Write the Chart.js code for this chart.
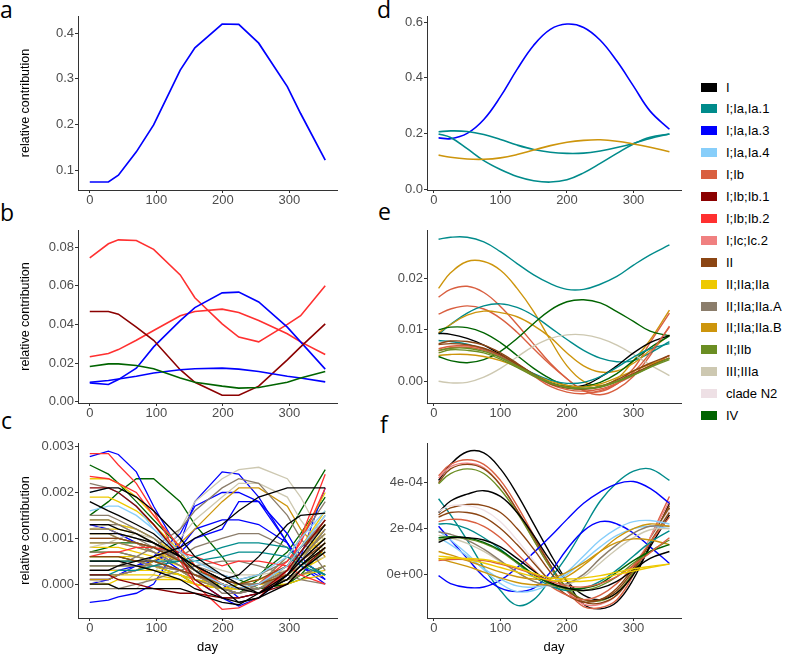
<!DOCTYPE html>
<html><head><meta charset="utf-8">
<script src="https://cdn.jsdelivr.net/npm/chart.js@4.4.1/dist/chart.umd.min.js"></script>
<style>
html,body{margin:0;padding:0;background:#fff;}
body{width:788px;height:655px;position:relative;overflow:hidden;font-family:"Liberation Sans",Arial,sans-serif;}
canvas{position:absolute;}
.lbl{position:absolute;font-family:"Open Sans",sans-serif;font-size:23px;line-height:23px;color:#000;}
.key{position:absolute;width:16px;height:9px;}
.ltxt{position:absolute;font-size:13px;line-height:15px;color:#000;white-space:nowrap;font-family:"Liberation Sans",Arial,sans-serif;}
</style></head><body>
<div class="lbl" style="left:0px;top:-2px">a</div>
<div class="lbl" style="left:0px;top:201px">b</div>
<div class="lbl" style="left:1px;top:409px">c</div>
<div class="lbl" style="left:377px;top:-2px">d</div>
<div class="lbl" style="left:378px;top:200px">e</div>
<div class="lbl" style="left:380px;top:413px">f</div>
<div id="legend"></div>
<script>
// ---- categories / legend ----
const cladeNames = ['I','I;Ia,Ia.1','I;Ia,Ia.3','I;Ia,Ia.4','I;Ib','I;Ib;Ib.1','I;Ib;Ib.2','I;Ic;Ic.2','II','II;IIa;IIa','II;IIa;IIa.A','II;IIa;IIa.B','II;IIb','III;IIIa','clade N2','IV'];
const cladeColors = ['#000000','#008B8B','#0000FF','#87CEFA','#D95F40','#8B0000','#FF3030','#F08080','#8B4513','#EEC900','#8B7D6B','#CD950C','#6B8E23','#CDC8B1','#EEE0E5','#006400'];

// ---- x values (day) ----
const dayLeft = [0, 28, 43, 70, 96, 136, 158, 199, 224, 254, 297, 317, 354];
const dayRight = [7, 25, 50, 75, 100, 125, 150, 175, 200, 225, 250, 275, 300, 325, 354];
const xTicks = [0, 100, 200, 300];

// ---- tick labels ----
const yTicksA = [0.1, 0.2, 0.3, 0.4];           const yLabA = ['0.1','0.2','0.3','0.4'];
const yTicksB = [0, 0.02, 0.04, 0.06, 0.08];    const yLabB = ['0.00','0.02','0.04','0.06','0.08'];
const yTicksC = [0, 0.001, 0.002, 0.003];       const yLabC = ['0.000','0.001','0.002','0.003'];
const yTicksD = [0, 0.2, 0.4, 0.6];             const yLabD = ['0.0','0.2','0.4','0.6'];
const yTicksE = [0, 0.01, 0.02];                const yLabE = ['0.00','0.01','0.02'];
const yTicksF = [0, 2e-4, 4e-4];                const yLabF = ['0e+00','2e-04','4e-04'];

// ---- series: panel a ----
const seriesA = [
  ['I;Ia,Ia.3', [0.074, 0.074, 0.089, 0.140, 0.199, 0.319, 0.368, 0.420, 0.419, 0.378, 0.283, 0.224, 0.122]]
];
// ---- panel b ----
const seriesB = [
  ['IV',        [0.0183, 0.0196, 0.0196, 0.0188, 0.0171, 0.0123, 0.0101, 0.0081, 0.0071, 0.0074, 0.0101, 0.0123, 0.0157]],
  ['I;Ia,Ia.3', [0.0101, 0.0110, 0.0118, 0.0132, 0.0149, 0.0166, 0.0171, 0.0174, 0.0169, 0.0157, 0.0132, 0.0123, 0.0103]],
  ['I;Ib;Ib.1', [0.0467, 0.0467, 0.0453, 0.0386, 0.0318, 0.0166, 0.0101, 0.0034, 0.0034, 0.0081, 0.0217, 0.0284, 0.0403]],
  ['I;Ia,Ia.3', [0.0098, 0.0090, 0.0115, 0.0174, 0.0284, 0.0420, 0.0487, 0.0563, 0.0567, 0.0516, 0.0386, 0.0310, 0.0169]],
  ['I;Ib;Ib.2', [0.0233, 0.0250, 0.0270, 0.0318, 0.0369, 0.0445, 0.0467, 0.0479, 0.0462, 0.0420, 0.0352, 0.0310, 0.0245]],
  ['I;Ib;Ib.2', [0.0744, 0.0817, 0.0837, 0.0834, 0.0788, 0.0656, 0.0538, 0.0403, 0.0335, 0.0310, 0.0400, 0.0445, 0.0600]]
];
// ---- panel c ----
const seriesC = [
  ['I',            [0.0020, 0.0021, 0.0021, 0.0019, 0.0016, 0.0010, 0.0006, 0.0002, 0.0000, -0.0002, 0.0001, 0.0004, 0.0009]],
  ['I',            [0.0003, 0.0003, 0.0004, 0.0005, 0.0006, 0.0008, 0.0010, 0.0013, 0.0016, 0.0019, 0.0021, 0.0021, 0.0021]],
  ['I',            [0.0000, 0.0000, -0.0001, -0.0001, -0.0001, -0.0001, -0.0002, -0.0004, -0.00045, -0.0002, 0.0002, 0.0005, 0.0010]],
  ['I',            [0.0013, 0.0013, 0.0012, 0.0011, 0.0009, 0.0006, 0.0004, 0.0001, 0.0002, 0.0006, 0.0013, 0.0015, 0.00155]],
  ['I',            [0.0018, 0.0016, 0.0015, 0.0013, 0.0011, 0.0006, 0.0003, -0.0001, -0.0004, -0.0003, 0.0002, 0.0006, 0.0013]],
  ['I',            [0.0011, 0.0011, 0.0011, 0.0010, 0.0009, 0.0006, 0.0004, 0.0001, -0.0001, -0.0002, 0.0001, 0.0004, 0.0008]],
  ['I',            [0.0005, 0.0005, 0.0005, 0.0004, 0.0003, 0.0001, -0.0001, -0.0003, -0.0004, -0.0003, 0.0000, 0.0003, 0.0007]],
  ['I;Ib;Ib.1',    [0.0021, 0.0021, 0.0020, 0.0017, 0.0013, 0.0006, 0.0001, -0.0003, -0.0003, -0.0002, 0.0003, 0.0007, 0.0014]],
  ['I;Ib;Ib.1',    [0.0002, 0.0002, 0.0001, 0.0000, -0.0001, -0.0002, -0.0002, -0.0003, -0.0003, -0.0002, 0.0000, 0.0003, 0.0008]],
  ['I;Ia,Ia.4',    [0.0016, 0.0017, 0.0017, 0.0015, 0.0012, 0.0007, 0.0005, 0.0002, 0.0001, 0.0002, 0.0006, 0.0010, 0.0016]],
  ['I;Ia,Ia.4',    [0.0020, 0.0021, 0.0020, 0.0017, 0.0012, 0.0006, 0.0003, 0.0000, -0.0001, 0.0000, 0.0004, 0.0008, 0.0015]],
  ['II',           [0.0010, 0.0010, 0.0010, 0.0009, 0.0008, 0.0005, 0.0003, 0.0001, 0.0000, 0.0001, 0.0004, 0.0008, 0.0013]],
  ['II',           [0.0006, 0.0006, 0.0006, 0.0005, 0.0005, 0.0003, 0.0002, 0.0000, -0.0001, 0.0000, 0.0002, 0.0005, 0.0009]],
  ['I;Ia,Ia.1',    [0.0002, 0.0002, 0.0003, 0.0003, 0.0004, 0.0005, 0.0006, 0.0008, 0.0009, 0.0009, 0.0008, 0.0005, 0.0002]],
  ['I;Ia,Ia.1',    [0.0005, 0.0005, 0.0005, 0.0005, 0.0005, 0.0005, 0.0005, 0.0006, 0.0007, 0.0007, 0.0006, 0.0004, 0.0002]],
  ['I;Ib;Ib.2',    [0.00285, 0.00285, 0.0026, 0.0022, 0.0016, 0.0005, 0.0000, -0.00055, -0.00052, -0.0003, 0.0003, 0.0010, 0.0024]],
  ['I;Ib;Ib.2',    [0.00235, 0.0023, 0.0022, 0.0020, 0.0015, 0.0008, 0.0004, 0.0000, -0.0001, 0.0000, 0.0005, 0.0009, 0.0021]],
  ['I;Ib;Ib.2',    [0.0006, 0.0007, 0.0007, 0.0008, 0.0008, 0.0007, 0.0006, 0.0004, 0.0005, 0.0005, 0.0004, 0.0002, 0.0000]],
  ['II;IIa;IIa.A', [0.0022, 0.0021, 0.0020, 0.0017, 0.0013, 0.0006, 0.0003, -0.0002, -0.0002, 0.0000, 0.0006, 0.0010, 0.0018]],
  ['II;IIa;IIa.A', [0.0003, 0.0003, 0.0004, 0.0006, 0.0008, 0.0012, 0.0016, 0.0021, 0.0023, 0.0022, 0.0015, 0.0010, 0.0003]],
  ['II;IIa;IIa.A', [0.0015, 0.0015, 0.0014, 0.0012, 0.0010, 0.0005, 0.0002, -0.0001, -0.0002, -0.0001, 0.0003, 0.0007, 0.0014]],
  ['II;IIa;IIa.A', [0.0012, 0.0012, 0.0011, 0.0010, 0.0008, 0.0005, 0.0003, 0.0001, 0.0000, 0.0000, 0.0003, 0.0006, 0.0011]],
  ['II;IIa;IIa.A', [0.0009, 0.0009, 0.0009, 0.0008, 0.0007, 0.0004, 0.0002, 0.0000, -0.0001, 0.0000, 0.0003, 0.0005, 0.0010]],
  ['II;IIa;IIa.A', [0.0005, 0.0005, 0.0005, 0.0005, 0.0004, 0.0003, 0.0002, 0.0000, -0.0001, -0.0001, 0.0001, 0.0003, 0.0007]],
  ['II;IIa;IIa.A', [0.0002, 0.0002, 0.0002, 0.0003, 0.0004, 0.0006, 0.0008, 0.0010, 0.0011, 0.0011, 0.0008, 0.0005, 0.0002]],
  ['II;IIa;IIa.A', [-0.0001, -0.0001, -0.0001, 0.0000, 0.0001, 0.0003, 0.0004, 0.0005, 0.0005, 0.0004, 0.0002, 0.0001, 0.0000]],
  ['II;IIa;IIa.A', [0.0013, 0.0013, 0.0013, 0.0011, 0.0009, 0.0006, 0.0004, 0.0001, 0.0000, 0.0000, 0.0004, 0.0008, 0.0015]],
  ['II;IIa;IIa.A', [0.0007, 0.0007, 0.0007, 0.0006, 0.0005, 0.0003, 0.0001, -0.0001, -0.0002, -0.0001, 0.0002, 0.0005, 0.0012]],
  ['II;IIa;IIa.A', [0.0011, 0.0011, 0.0010, 0.0009, 0.0007, 0.0004, 0.0002, -0.0001, -0.0002, -0.0001, 0.0002, 0.0004, 0.0009]],
  ['II;IIa;IIa.A', [0.0014, 0.0014, 0.0013, 0.0011, 0.0009, 0.0005, 0.0003, 0.0000, -0.0001, 0.0000, 0.0004, 0.0007, 0.0013]],
  ['II;IIa;IIa.A', [0.0004, 0.0004, 0.0004, 0.0004, 0.0004, 0.0003, 0.0002, 0.0001, 0.0000, 0.0000, 0.0001, 0.0002, 0.0004]],
  ['II;IIa;IIa.A', [0.0010, 0.0010, 0.0010, 0.0009, 0.0008, 0.0006, 0.0004, 0.0002, 0.0001, 0.0002, 0.0005, 0.0008, 0.0014]],
  ['II;IIa;IIa.B', [0.0001, 0.0001, 0.0002, 0.0003, 0.0005, 0.0009, 0.0012, 0.0018, 0.0021, 0.0021, 0.0017, 0.0012, 0.0006]],
  ['III;IIIa',     [0.0008, 0.0009, 0.0010, 0.0011, 0.0010, 0.0007, 0.0005, 0.0003, 0.0002, 0.0002, 0.0003, 0.0004, 0.0006]],
  ['II;IIa;IIa',   [0.0023, 0.0023, 0.0022, 0.0019, 0.0015, 0.0008, 0.0004, 0.0000, -0.0001, 0.0000, 0.0006, 0.0010, 0.0020]],
  ['II;IIa;IIa',   [0.0019, 0.0019, 0.0018, 0.0016, 0.0013, 0.0007, 0.0003, 0.0000, -0.0001, 0.0000, 0.0004, 0.0008, 0.0016]],
  ['II;IIa;IIa',   [0.0011, 0.0011, 0.0010, 0.0009, 0.0007, 0.0004, 0.0002, -0.0001, -0.0001, 0.0000, 0.0003, 0.0006, 0.0011]],
  ['II;IIa;IIa',   [0.0008, 0.0008, 0.0008, 0.0007, 0.0006, 0.0004, 0.0002, 0.0000, -0.0001, 0.0000, 0.0002, 0.0004, 0.0009]],
  ['II;IIa;IIa',   [0.0005, 0.0005, 0.0005, 0.0005, 0.0004, 0.0002, 0.0001, -0.0001, -0.0001, 0.0000, 0.0001, 0.0003, 0.0006]],
  ['II;IIa;IIa',   [0.0003, 0.0003, 0.0003, 0.0003, 0.0003, 0.0002, 0.0000, -0.0001, -0.0001, 0.0000, 0.0001, 0.0002, 0.0004]],
  ['II;IIa;IIa',   [0.0000, 0.0000, 0.0001, 0.0001, 0.0001, 0.0001, 0.0000, -0.0001, 0.0000, 0.0000, 0.0000, 0.0001, 0.0002]],
  ['II;IIa;IIa',   [0.0014, 0.0014, 0.0013, 0.0012, 0.0010, 0.0006, 0.0003, 0.0000, -0.0001, 0.0000, 0.0004, 0.0008, 0.0013]],
  ['II;IIa;IIa',   [0.0012, 0.0012, 0.0012, 0.0011, 0.0009, 0.0005, 0.0003, 0.0000, -0.0001, 0.0000, 0.0003, 0.0006, 0.0010]],
  ['II;IIa;IIa',   [0.0006, 0.0006, 0.0006, 0.0006, 0.0005, 0.0003, 0.0001, 0.0000, -0.0001, 0.0000, 0.0002, 0.0004, 0.0008]],
  ['II;IIa;IIa',   [0.0002, 0.0002, 0.0002, 0.0002, 0.0002, 0.0001, 0.0000, -0.0001, -0.0001, 0.0000, 0.0001, 0.0002, 0.0003]],
  ['II;IIa;IIa',   [0.0009, 0.0009, 0.0009, 0.0008, 0.0007, 0.0005, 0.0003, 0.0001, 0.0000, 0.0001, 0.0003, 0.0006, 0.0012]],
  ['II;IIb',       [0.0004, 0.0004, 0.0004, 0.0004, 0.0003, 0.0002, 0.0001, 0.0000, -0.0001, 0.0000, 0.0001, 0.0002, 0.0004]],
  ['II;IIb',       [0.0007, 0.0007, 0.0007, 0.0006, 0.0005, 0.0003, 0.0001, -0.0001, -0.0001, 0.0000, 0.0002, 0.0004, 0.0007]],
  ['III;IIIa',     [0.0001, 0.0000, -0.0001, -0.0001, 0.0002, 0.0012, 0.0018, 0.0023, 0.0025, 0.00255, 0.0023, 0.0019, 0.0009]],
  ['III;IIIa',     [0.0002, 0.0002, 0.0002, 0.0003, 0.0005, 0.0010, 0.0014, 0.0019, 0.0022, 0.0022, 0.0019, 0.0014, 0.0007]],
  ['III;IIIa',     [0.0012, 0.0013, 0.0013, 0.0012, 0.0010, 0.0007, 0.0005, 0.0002, 0.0000, -0.0001, 0.0002, 0.0005, 0.0012]],
  ['I;Ia,Ia.3',    [0.00278, 0.0029, 0.00283, 0.00245, 0.0017, 0.0007, 0.0003, 0.0000, -0.0003, -0.0002, 0.0002, 0.0005, 0.0012]],
  ['I;Ia,Ia.3',    [-0.0004, -0.00035, -0.00028, -0.0002, 0.0000, 0.0009, 0.0018, 0.00245, 0.0024, 0.0019, 0.0009, 0.0004, 0.0000]],
  ['I;Ia,Ia.3',    [0.0000, 0.0001, 0.0002, 0.0004, 0.0006, 0.0011, 0.0017, 0.0020, 0.0020, 0.0018, 0.0011, 0.0006, 0.0001]],
  ['I;Ia,Ia.3',    [0.0001, 0.0001, 0.0002, 0.0003, 0.0005, 0.0008, 0.0012, 0.0014, 0.0014, 0.0013, 0.0009, 0.0005, 0.0002]],
  ['I;Ia,Ia.3',    [0.0003, 0.0003, 0.0003, 0.0004, 0.0005, 0.0007, 0.0010, 0.0012, 0.0018, 0.0018, 0.0009, 0.0004, 0.0001]],
  ['I;Ia,Ia.3',    [0.0013, 0.0012, 0.0011, 0.0009, 0.0007, 0.0003, 0.0001, -0.0003, -0.00048, -0.0003, 0.0002, 0.0006, 0.0021]],
  ['IV',           [0.0026, 0.0024, 0.0022, 0.0018, 0.0014, 0.0008, 0.0004, -0.0001, -0.0002, 0.0001, 0.0011, 0.0016, 0.0025]],
  ['IV',           [0.0015, 0.0018, 0.0020, 0.0023, 0.0023, 0.0018, 0.0013, 0.0006, 0.0001, -0.0001, 0.0000, 0.0002, 0.0008]],
  ['IV',           [0.0007, 0.0008, 0.0009, 0.0009, 0.0008, 0.0005, 0.0003, -0.0001, 0.0000, 0.0002, 0.0007, 0.0011, 0.0019]],
  ['IV',           [0.0006, 0.0006, 0.0006, 0.0005, 0.0004, 0.0002, 0.0000, -0.0001, -0.0001, -0.0001, 0.0000, 0.0001, 0.0004]]
];
// ---- panel d ----
const seriesD = [
  ['II;IIa;IIa.B', [0.122, 0.114, 0.108, 0.107, 0.112, 0.124, 0.140, 0.156, 0.168, 0.175, 0.177, 0.172, 0.162, 0.150, 0.134]],
  ['I;Ia,Ia.1',    [0.206, 0.209, 0.207, 0.196, 0.178, 0.158, 0.142, 0.132, 0.128, 0.129, 0.137, 0.149, 0.164, 0.182, 0.198]],
  ['I;Ia,Ia.1',    [0.198, 0.185, 0.145, 0.102, 0.070, 0.045, 0.030, 0.025, 0.033, 0.058, 0.092, 0.128, 0.162, 0.186, 0.198]],
  ['I;Ia,Ia.3',    [0.184, 0.181, 0.200, 0.250, 0.332, 0.430, 0.517, 0.574, 0.593, 0.581, 0.535, 0.460, 0.370, 0.280, 0.215]]
];
// ---- panel e ----
const seriesE = [
  ['II;IIb',       [0.0060, 0.0064, 0.0064, 0.0058, 0.0046, 0.0030, 0.0013, -0.0003, -0.0011, -0.0014, -0.0010, 0.0000, 0.0013, 0.0028, 0.0045]],
  ['II;IIb',       [0.0055, 0.0061, 0.0060, 0.0055, 0.0043, 0.0027, 0.0010, -0.0004, -0.0012, -0.0014, -0.0011, -0.0001, 0.0012, 0.0027, 0.0042]],
  ['II',           [0.0073, 0.0078, 0.0077, 0.0070, 0.0055, 0.0035, 0.0013, -0.0005, -0.0013, -0.0015, -0.0010, 0.0003, 0.0020, 0.0035, 0.0050]],
  ['II',           [0.0071, 0.0073, 0.0071, 0.0064, 0.0051, 0.0033, 0.0014, -0.0003, -0.0012, -0.0015, -0.0011, 0.0000, 0.0015, 0.0030, 0.0045]],
  ['II;IIa;IIa.B', [0.0050, 0.0052, 0.0052, 0.0048, 0.0040, 0.0028, 0.0013, 0.0000, -0.0008, -0.0011, -0.0005, 0.0007, 0.0020, 0.0033, 0.0045]],
  ['I;Ib',         [0.0063, 0.0068, 0.0069, 0.0063, 0.0050, 0.0032, 0.0012, -0.0006, -0.0016, -0.0019, -0.0015, -0.0004, 0.0012, 0.0030, 0.0050]],
  ['I;Ib',         [0.0059, 0.0065, 0.0066, 0.0060, 0.0047, 0.0029, 0.0010, -0.0010, -0.0021, -0.0024, -0.0018, -0.0005, 0.0018, 0.0055, 0.0105]],
  ['I;Ia,Ia.1',    [0.0079, 0.0077, 0.0072, 0.0062, 0.0048, 0.0032, 0.0015, 0.0002, -0.0004, -0.0002, 0.0009, 0.0027, 0.0047, 0.0063, 0.0073]],
  ['I',            [0.0093, 0.0091, 0.0083, 0.0070, 0.0052, 0.0032, 0.0012, -0.0003, -0.0010, -0.0008, 0.0008, 0.0030, 0.0055, 0.0075, 0.0089]],
  ['III;IIIa',     [0.0000, -0.0003, -0.0002, 0.0008, 0.0025, 0.0047, 0.0068, 0.0083, 0.0090, 0.0090, 0.0083, 0.0070, 0.0052, 0.0032, 0.0011]],
  ['IV',           [0.0100, 0.0105, 0.0104, 0.0094, 0.0075, 0.0050, 0.0025, 0.0005, -0.0008, -0.0010, -0.0002, 0.0015, 0.0040, 0.0065, 0.0088]],
  ['IV',           [0.0048, 0.0040, 0.0036, 0.0042, 0.0058, 0.0083, 0.0112, 0.0138, 0.0154, 0.0158, 0.0152, 0.0135, 0.0116, 0.0097, 0.0088]],
  ['II;IIa;IIa.B', [0.0094, 0.0110, 0.0128, 0.0136, 0.0133, 0.0125, 0.0108, 0.0085, 0.0055, 0.0030, 0.0018, 0.0020, 0.0035, 0.0060, 0.0090]],
  ['I;Ia,Ia.1',    [0.0091, 0.0110, 0.0132, 0.0146, 0.0150, 0.0143, 0.0127, 0.0104, 0.0081, 0.0060, 0.0045, 0.0038, 0.0040, 0.0055, 0.0077]],
  ['I;Ib',         [0.0130, 0.0140, 0.0146, 0.0140, 0.0122, 0.0095, 0.0063, 0.0032, 0.0005, -0.0018, -0.0026, -0.0015, 0.0010, 0.0050, 0.0107]],
  ['I;Ib',         [0.0163, 0.0178, 0.0184, 0.0172, 0.0145, 0.0110, 0.0072, 0.0035, 0.0005, -0.0018, -0.0020, -0.0005, 0.0025, 0.0075, 0.0132]],
  ['II;IIa;IIa.B', [0.0180, 0.0210, 0.0232, 0.0232, 0.0215, 0.0180, 0.0135, 0.0080, 0.0030, 0.0000, -0.0008, 0.0005, 0.0040, 0.0080, 0.0138]],
  ['I;Ia,Ia.1',    [0.0275, 0.0279, 0.0279, 0.0270, 0.0251, 0.0228, 0.0206, 0.0189, 0.0178, 0.0178, 0.0188, 0.0203, 0.0225, 0.0245, 0.0264]]
];
// ---- panel f ----
const seriesF = [
  ['II;IIa;IIa',   [0.80e-4, 0.75e-4, 0.65e-4, 0.50e-4, 0.30e-4, 0.10e-4, -0.10e-4, -0.25e-4, -0.30e-4, -0.30e-4, -0.20e-4, 0.00e-4, 0.15e-4, 0.30e-4, 0.45e-4]],
  ['II;IIa;IIa',   [0.65e-4, 0.70e-4, 0.70e-4, 0.65e-4, 0.50e-4, 0.30e-4, 0.05e-4, -0.15e-4, -0.20e-4, -0.15e-4, -0.05e-4, 0.10e-4, 0.25e-4, 0.35e-4, 0.45e-4]],
  ['I;Ib',         [0.60e-4, 0.65e-4, 0.65e-4, 0.60e-4, 0.45e-4, 0.25e-4, 0.00e-4, -0.30e-4, -0.50e-4, -0.55e-4, -0.40e-4, -0.10e-4, 0.40e-4, 0.95e-4, 1.60e-4]],
  ['I',            [1.40e-4, 1.60e-4, 1.60e-4, 1.50e-4, 1.20e-4, 0.70e-4, 0.15e-4, -0.35e-4, -0.60e-4, -0.70e-4, -0.60e-4, -0.30e-4, 0.20e-4, 0.70e-4, 1.00e-4]],
  ['IV',           [1.60e-4, 1.65e-4, 1.60e-4, 1.40e-4, 1.05e-4, 0.55e-4, 0.00e-4, -0.40e-4, -0.60e-4, -0.60e-4, -0.40e-4, 0.10e-4, 0.60e-4, 1.00e-4, 1.30e-4]],
  ['II;IIb',       [1.50e-4, 1.60e-4, 1.55e-4, 1.35e-4, 1.00e-4, 0.50e-4, 0.00e-4, -0.40e-4, -0.65e-4, -0.70e-4, -0.50e-4, -0.10e-4, 0.50e-4, 1.00e-4, 1.50e-4]],
  ['II;IIa;IIa.B', [1.00e-4, 0.85e-4, 0.60e-4, 0.35e-4, 0.10e-4, -0.10e-4, -0.20e-4, -0.20e-4, 0.10e-4, 0.50e-4, 1.00e-4, 1.40e-4, 1.55e-4, 1.50e-4, 1.30e-4]],
  ['II;IIa;IIa.B', [0.70e-4, 0.55e-4, 0.35e-4, 0.10e-4, -0.15e-4, -0.35e-4, -0.45e-4, -0.40e-4, -0.10e-4, 0.40e-4, 1.00e-4, 1.60e-4, 2.00e-4, 2.20e-4, 2.10e-4]],
  ['II;IIa;IIa.A', [1.85e-4, 1.75e-4, 1.50e-4, 1.10e-4, 0.60e-4, 0.10e-4, -0.30e-4, -0.50e-4, -0.40e-4, 0.00e-4, 0.70e-4, 1.30e-4, 1.80e-4, 2.10e-4, 2.10e-4]],
  ['III;IIIa',     [1.70e-4, 1.60e-4, 1.35e-4, 1.00e-4, 0.55e-4, 0.10e-4, -0.30e-4, -0.50e-4, -0.45e-4, -0.10e-4, 0.50e-4, 1.10e-4, 1.60e-4, 1.95e-4, 2.00e-4]],
  ['I;Ia,Ia.4',    [1.60e-4, 1.30e-4, 0.80e-4, 0.25e-4, -0.20e-4, -0.50e-4, -0.55e-4, -0.40e-4, 0.00e-4, 0.60e-4, 1.20e-4, 1.70e-4, 2.00e-4, 2.10e-4, 2.00e-4]],
  ['I;Ia,Ia.4',    [1.90e-4, 1.50e-4, 0.90e-4, 0.20e-4, -0.40e-4, -0.75e-4, -0.70e-4, -0.40e-4, 0.10e-4, 0.80e-4, 1.50e-4, 2.00e-4, 2.30e-4, 2.35e-4, 2.20e-4]],
  ['I;Ia,Ia.1',    [2.20e-4, 2.20e-4, 2.00e-4, 1.60e-4, 1.10e-4, 0.50e-4, -0.10e-4, -0.50e-4, -0.70e-4, -0.60e-4, -0.30e-4, 0.20e-4, 0.80e-4, 1.40e-4, 1.90e-4]],
  ['I;Ib',         [2.30e-4, 2.40e-4, 2.35e-4, 2.10e-4, 1.60e-4, 0.90e-4, 0.20e-4, -0.50e-4, -0.90e-4, -1.10e-4, -0.90e-4, -0.40e-4, 0.40e-4, 1.40e-4, 2.50e-4]],
  ['II',           [2.50e-4, 2.70e-4, 2.70e-4, 2.50e-4, 2.00e-4, 1.30e-4, 0.50e-4, -0.30e-4, -0.90e-4, -1.20e-4, -1.10e-4, -0.60e-4, 0.30e-4, 1.40e-4, 2.70e-4]],
  ['clade N2',     [2.75e-4, 3.00e-4, 3.00e-4, 2.80e-4, 2.30e-4, 1.50e-4, 0.60e-4, -0.30e-4, -0.90e-4, -1.10e-4, -0.90e-4, -0.40e-4, 0.40e-4, 1.50e-4, 2.80e-4]],
  ['II',           [2.60e-4, 2.90e-4, 3.05e-4, 3.00e-4, 2.70e-4, 2.00e-4, 1.10e-4, 0.10e-4, -0.70e-4, -1.10e-4, -1.10e-4, -0.70e-4, 0.20e-4, 1.40e-4, 2.90e-4]],
  ['I',            [2.70e-4, 3.20e-4, 3.50e-4, 3.65e-4, 3.40e-4, 2.70e-4, 1.70e-4, 0.60e-4, -0.30e-4, -0.90e-4, -1.10e-4, -0.80e-4, 0.00e-4, 1.20e-4, 2.60e-4]],
  ['I;Ia,Ia.3',    [2.10e-4, 1.50e-4, 0.70e-4, -0.10e-4, -0.60e-4, -0.75e-4, -0.60e-4, 0.10e-4, 1.10e-4, 1.90e-4, 2.30e-4, 2.20e-4, 1.80e-4, 1.20e-4, 0.48e-4]],
  ['I;Ia,Ia.3',    [-0.05e-4, -0.40e-4, -0.57e-4, -0.55e-4, -0.25e-4, 0.30e-4, 0.95e-4, 1.65e-4, 2.40e-4, 3.10e-4, 3.60e-4, 3.95e-4, 4.05e-4, 3.75e-4, 3.10e-4]],
  ['I;Ia,Ia.1',    [3.30e-4, 2.60e-4, 1.50e-4, 0.30e-4, -0.70e-4, -1.35e-4, -1.10e-4, -0.20e-4, 0.80e-4, 2.00e-4, 3.20e-4, 4.00e-4, 4.50e-4, 4.60e-4, 4.10e-4]],
  ['II;IIb',       [3.95e-4, 4.40e-4, 4.60e-4, 4.40e-4, 3.70e-4, 2.70e-4, 1.50e-4, 0.30e-4, -0.60e-4, -1.10e-4, -1.15e-4, -0.80e-4, 0.10e-4, 1.40e-4, 2.90e-4]],
  ['II',           [4.00e-4, 4.60e-4, 4.80e-4, 4.60e-4, 3.90e-4, 2.80e-4, 1.60e-4, 0.40e-4, -0.60e-4, -1.20e-4, -1.25e-4, -0.90e-4, 0.10e-4, 1.50e-4, 3.00e-4]],
  ['I;Ic;Ic.2',    [4.20e-4, 4.70e-4, 4.85e-4, 4.65e-4, 3.90e-4, 2.80e-4, 1.50e-4, 0.30e-4, -0.70e-4, -1.30e-4, -1.30e-4, -0.90e-4, 0.10e-4, 1.60e-4, 3.20e-4]],
  ['I;Ib',         [4.30e-4, 4.80e-4, 5.00e-4, 4.80e-4, 4.10e-4, 3.00e-4, 1.70e-4, 0.40e-4, -0.70e-4, -1.40e-4, -1.45e-4, -1.10e-4, 0.00e-4, 1.60e-4, 3.40e-4]],
  ['I',            [4.10e-4, 4.80e-4, 5.35e-4, 5.30e-4, 4.60e-4, 3.50e-4, 2.20e-4, 0.90e-4, -0.30e-4, -1.30e-4, -1.50e-4, -1.20e-4, -0.20e-4, 1.30e-4, 3.10e-4]]
];

function colorOf(name){ return cladeColors[cladeNames.indexOf(name)]; }

// legend
const leg = document.getElementById('legend');
cladeNames.forEach((n, i) => {
  const cy = 87 + 21.9 * i;
  const k = document.createElement('div'); k.className = 'key';
  k.style.left = '701px'; k.style.top = (cy - 4.5) + 'px'; k.style.background = cladeColors[i];
  leg.appendChild(k);
  const t = document.createElement('div'); t.className = 'ltxt';
  t.style.left = '726px'; t.style.top = (cy - 7.5) + 'px'; t.textContent = n;
  leg.appendChild(t);
});

const tickFont = {family: "'Liberation Sans', Arial, sans-serif", size: 13};
function panel(box, series, days, xr, yr, yt, yl, lw, tension, yTitle, xTitle) {
  const cv = document.createElement('canvas');
  cv.width = box.w; cv.height = box.h;
  cv.style.left = box.left + 'px'; cv.style.top = box.top + 'px';
  cv.style.width = box.w + 'px'; cv.style.height = box.h + 'px';
  document.body.appendChild(cv);
  new Chart(cv, {
    type: 'line',
    data: { datasets: series.map(([cl, vals]) => ({
      data: vals.map((v, i) => ({x: days[i], y: v})),
      borderColor: colorOf(cl), backgroundColor: colorOf(cl),
      borderWidth: lw, pointRadius: 0, tension: tension, fill: false
    })) },
    options: {
      responsive: false, animation: false, devicePixelRatio: 1, events: [],
      layout: { padding: { top: box.padTop, right: box.padRight, left: 0, bottom: 0 } },
      plugins: { legend: { display: false }, tooltip: { enabled: false } },
      scales: {
        x: {
          type: 'linear', min: xr[0], max: xr[1],
          afterFit: s => { s.height = box.xH; },
          afterBuildTicks: s => { s.ticks = xTicks.map(v => ({value: v})); },
          ticks: { color: '#4d4d4d', font: tickFont, padding: 0, maxRotation: 0, autoSkip: false, callback: v => String(v) },
          grid: { display: true, drawOnChartArea: false, drawTicks: true, tickLength: 3, color: '#333333' },
          border: { display: true, color: '#333333', width: 1 },
          title: { display: !!xTitle, text: 'day', color: '#000', font: {family: "'Liberation Sans', Arial, sans-serif", size: 13}, padding: {top: 0, bottom: 0} }
        },
        y: {
          type: 'linear', min: yr[0], max: yr[1],
          afterFit: s => { s.width = box.yW; },
          afterBuildTicks: s => { s.ticks = yt.map(v => ({value: v})); },
          ticks: { color: '#4d4d4d', font: tickFont, padding: 1, autoSkip: false, callback: (v, i) => yl[i] },
          grid: { display: true, drawOnChartArea: false, drawTicks: true, tickLength: 3, color: '#333333' },
          border: { display: true, color: '#333333', width: 1 },
          title: { display: !!yTitle, text: 'relative contribution', color: '#000', font: {family: "'Liberation Sans', Arial, sans-serif", size: 12.5}, padding: {top: 18.5, bottom: 0} }
        }
      }
    }
  });
}

const xrL = [-17.7, 371.7], xrR = [-10.4, 371.4];
panel({left:0, top:0,   w:345, h:215, padTop:16, padRight:8, yW:78, xH:25}, seriesA, dayLeft, xrL, [0.0565, 0.4375], yTicksA, yLabA, 1.7, 0, true, false);
panel({left:0, top:215, w:345, h:210, padTop:15, padRight:8, yW:78, xH:22}, seriesB, dayLeft, xrL, [-0.0006, 0.0888], yTicksB, yLabB, 1.6, 0, true, false);
panel({left:0, top:425, w:345, h:230, padTop:18, padRight:8, yW:78, xH:37}, seriesC, dayLeft, xrL, [-0.00074, 0.00308], yTicksC, yLabC, 1.3, 0, true, true);
panel({left:340, top:0,   w:350, h:215, padTop:16, padRight:9, yW:87, xH:25}, seriesD, dayRight, xrR, [-0.0035, 0.622], yTicksD, yLabD, 1.6, 0.4, false, false);
panel({left:340, top:215, w:350, h:210, padTop:15, padRight:9, yW:87, xH:22}, seriesE, dayRight, xrR, [-0.0042, 0.0293], yTicksE, yLabE, 1.4, 0.4, false, false);
panel({left:340, top:425, w:350, h:230, padTop:18, padRight:9, yW:87, xH:37}, seriesF, dayRight, xrR, [-1.9e-4, 5.73e-4], yTicksF, yLabF, 1.4, 0.4, false, true);
</script>
</body></html>
